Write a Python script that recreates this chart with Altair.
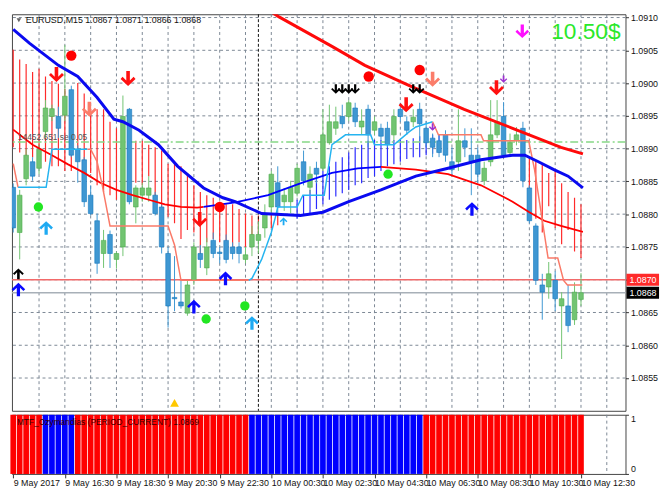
import altair as alt
import pandas as pd

# ---------------- candles (bar index 0 = 9 May 14:30, M15) ----------------
OPEN = [1.08841, 1.08772, 1.08854, 1.08880, 1.08870, 1.08926, 1.08949, 1.08949, 1.08951, 1.08990,
        1.08899, 1.08883, 1.08829, 1.08790, 1.08740, 1.08769, 1.08731, 1.08750, 1.08960, 1.08811,
        1.08829, 1.08829, 1.08829, 1.08811, 1.08740, 1.08673, 1.08666, 1.08649, 1.08699, 1.08740,
        1.08718, 1.08760, 1.08742, 1.08760, 1.08750, 1.08750, 1.08731, 1.08750, 1.08760, 1.08779,
        1.08811, 1.08848, 1.08819, 1.08819, 1.08832, 1.08880, 1.08841, 1.08870, 1.08870, 1.08909,
        1.08931, 1.08949, 1.08949, 1.08962, 1.08933, 1.08960, 1.08928, 1.08931, 1.08931, 1.08921,
        1.08960, 1.08941, 1.08941, 1.08960, 1.08931, 1.08916, 1.08912, 1.08921, 1.08880, 1.08880,
        1.08912, 1.08890, 1.08890, 1.08851, 1.08880, 1.08921, 1.08949, 1.08894, 1.08912, 1.08931,
        1.08840, 1.08782, 1.08692, 1.08689, 1.08699, 1.08660, 1.08660, 1.08639, 1.08670]
HIGH = [1.08847, 1.08837, 1.08899, 1.08887, 1.08906, 1.08974, 1.08967, 1.08964, 1.09058, 1.08996,
        1.08905, 1.08887, 1.08844, 1.08801, 1.08776, 1.08775, 1.08743, 1.08981, 1.08962, 1.08844,
        1.08848, 1.08858, 1.08834, 1.08815, 1.08750, 1.08736, 1.08699, 1.08699, 1.08757, 1.08753,
        1.08764, 1.08772, 1.08750, 1.08769, 1.08757, 1.08757, 1.08750, 1.08782, 1.08789, 1.08815,
        1.08866, 1.08873, 1.08840, 1.08851, 1.08877, 1.08897, 1.08873, 1.08880, 1.08960, 1.08967,
        1.08964, 1.08967, 1.08974, 1.08970, 1.08960, 1.08967, 1.08949, 1.08938, 1.08941, 1.08960,
        1.08970, 1.08949, 1.08960, 1.08970, 1.08942, 1.08923, 1.08921, 1.08928, 1.08902, 1.08960,
        1.08931, 1.08931, 1.08902, 1.08880, 1.08974, 1.08974, 1.08971, 1.08923, 1.08933, 1.08941,
        1.08844, 1.08786, 1.08709, 1.08727, 1.08713, 1.08681, 1.08692, 1.08696, 1.08710]
LOW = [1.08772, 1.08731, 1.08844, 1.08851, 1.08861, 1.08916, 1.08942, 1.08916, 1.08942, 1.08887,
       1.08848, 1.08811, 1.08798, 1.08709, 1.08718, 1.08718, 1.08717, 1.08736, 1.08815, 1.08786,
       1.08819, 1.08819, 1.08798, 1.08740, 1.08627, 1.08652, 1.08656, 1.08645, 1.08692, 1.08718,
       1.08707, 1.08733, 1.08725, 1.08725, 1.08731, 1.08725, 1.08725, 1.08736, 1.08740, 1.08764,
       1.08801, 1.08801, 1.08805, 1.08801, 1.08827, 1.08844, 1.08832, 1.08847, 1.08866, 1.08906,
       1.08921, 1.08931, 1.08942, 1.08933, 1.08921, 1.08902, 1.08921, 1.08912, 1.08902, 1.08912,
       1.08941, 1.08921, 1.08933, 1.08912, 1.08902, 1.08887, 1.08887, 1.08880, 1.08858, 1.08866,
       1.08887, 1.08829, 1.08848, 1.08844, 1.08873, 1.08916, 1.08887, 1.08887, 1.08905, 1.08841,
       1.08786, 1.08692, 1.08639, 1.08671, 1.08652, 1.08579, 1.08620, 1.08631, 1.08660]
CLOSE = [1.08779, 1.08829, 1.08890, 1.08858, 1.08899, 1.08962, 1.08961, 1.08931, 1.08980, 1.08890,
         1.08880, 1.08819, 1.08801, 1.08725, 1.08760, 1.08740, 1.08740, 1.08949, 1.08819, 1.08840,
         1.08840, 1.08840, 1.08801, 1.08750, 1.08660, 1.08671, 1.08660, 1.08692, 1.08750, 1.08731,
         1.08750, 1.08740, 1.08740, 1.08731, 1.08740, 1.08740, 1.08738, 1.08769, 1.08769, 1.08801,
         1.08861, 1.08811, 1.08829, 1.08841, 1.08870, 1.08851, 1.08861, 1.08861, 1.08921, 1.08941,
         1.08941, 1.08938, 1.08970, 1.08941, 1.08942, 1.08921, 1.08941, 1.08919, 1.08906, 1.08949,
         1.08949, 1.08928, 1.08948, 1.08938, 1.08909, 1.08902, 1.08894, 1.08890, 1.08868, 1.08912,
         1.08902, 1.08880, 1.08861, 1.08870, 1.08921, 1.08941, 1.08890, 1.08909, 1.08921, 1.08851,
         1.08790, 1.08699, 1.08681, 1.08709, 1.08671, 1.08671, 1.08630, 1.08681, 1.08680]

# ---------------- indicator lines (bar index, price) ----------------
BLUE_MA_I = [0, 2.5, 7, 10, 13, 15.6, 17, 19.5, 22.5, 25.5, 29.5, 32.5, 34.4, 38.5, 44.5, 48, 52, 57,
             62.4, 67.4, 72.5, 77.4, 79.3, 81.4, 83.8, 86, 88.3]
BLUE_MA_P = [1.09082, 1.09061, 1.09027, 1.09010, 1.08978, 1.08945, 1.08941, 1.08928, 1.08906, 1.08873,
             1.08840, 1.08825, 1.08819, 1.08801, 1.08798, 1.08803, 1.08819, 1.08837, 1.08858, 1.08870,
             1.08883, 1.08890, 1.08890, 1.08880, 1.08868, 1.08858, 1.08840]

RED_MA_I = [35, 41.2, 49.4, 54.5, 61.4, 69.9, 77.4, 84.9, 88.3]
RED_MA_P = [1.09140, 1.09101, 1.09056, 1.09027, 1.08996, 1.08960, 1.08931, 1.08902, 1.08892]

THIN_I = [0, 3, 6, 8.5, 11, 13.5, 16, 18.5, 21, 23.5, 26, 28.5, 29.5,
          29.5, 34.4, 39.5, 44.5, 49.4, 53.4, 57,
          57, 62.4, 67.4, 72.5, 77.4, 80, 82.3, 84.9, 88.3]
THIN_P = [1.08929, 1.08906, 1.08890, 1.08876, 1.08863, 1.08848, 1.08837, 1.08829, 1.08822, 1.08815,
          1.08811, 1.08810, 1.08811,
          1.08811, 1.08818, 1.08829, 1.08847, 1.08863, 1.08870, 1.08872,
          1.08872, 1.08868, 1.08861, 1.08844, 1.08819, 1.08803, 1.08790, 1.08782, 1.08773]
THIN_SEG = [0] * 13 + [1] * 7 + [2] * 9
THIN_COLOR = ["#ff0000", "#0000ff", "#ff0000"]

STEP_I = [0, 0.75,
          0.75, 5.1, 6.0, 11.5,
          11.5, 12, 13, 13.8, 15, 24, 25, 26, 36.5,
          36.5, 37, 38.5, 40, 40.7, 41, 44, 44.9, 48.2, 49.4, 51.5, 55.4, 56, 59, 61.4, 62.4, 65,
          65, 65.9, 67.4, 72.5, 72.9, 79.9, 80.8, 82.9, 84.4, 85.3, 85.9, 88.2]
STEP_P = [1.08877, 1.08841,
          1.08841, 1.08841, 1.08899, 1.08899,
          1.08899, 1.08899, 1.08880, 1.08844, 1.08782, 1.08782, 1.08753, 1.08699, 1.08699,
          1.08699, 1.08702, 1.08731, 1.08772, 1.08798, 1.08811, 1.08811, 1.08829, 1.08829, 1.08906,
          1.08921, 1.08921, 1.08906, 1.08906, 1.08926, 1.08933, 1.08941,
          1.08941, 1.08921, 1.08921, 1.08921, 1.08912, 1.08912, 1.08868, 1.08733, 1.08733, 1.08699,
          1.08692, 1.08692]
STEP_SEG = [0] * 2 + [1] * 4 + [2] * 9 + [3] * 17 + [4] * 12
STEP_COLOR = ["#fa7a68", "#25b4f0", "#fa7a68", "#25b4f0", "#fa7a68"]

# histogram-like vertical lines
RED_HIST_I = list(range(0, 42)) + list(range(80, 89))
RED_HIST_TOP = [1.09051, 1.09036, 1.09029, 1.09017, 1.09022, 1.09010, 1.09003, 1.08999, 1.08991, 1.08988,
                1.09000, 1.08984, 1.08960, 1.08960, 1.08960, 1.08941, 1.08931, 1.08923, 1.08919, 1.08912,
                1.08912, 1.08906, 1.08902, 1.08897, 1.08877, 1.08877, 1.08873, 1.08863, 1.08844, 1.08834,
                1.08829, 1.08825, 1.08819, 1.08815, 1.08815, 1.08808, 1.08801, 1.08798, 1.08798, 1.08801,
                1.08801, 1.08801,
                1.08887, 1.08880, 1.08876, 1.08863, 1.08868, 1.08847, 1.08834, 1.08825, 1.08815]
RED_HIST_BOT = [1.08902, 1.08894, 1.08887, 1.08887, 1.08880, 1.08880, 1.08873, 1.08873, 1.08866, 1.08866,
                1.08887, 1.08873, 1.08863, 1.08844, 1.08834, 1.08829, 1.08822, 1.08822, 1.08822, 1.08848,
                1.08844, 1.08858, 1.08815, 1.08811, 1.08796, 1.08786, 1.08762, 1.08776, 1.08772, 1.08733,
                1.08757, 1.08762, 1.08757, 1.08750, 1.08747, 1.08757, 1.08750, 1.08757, 1.08764, 1.08779,
                1.08779, 1.08783,
                1.08815, 1.08793, 1.08772, 1.08812, 1.08779, 1.08754, 1.08776, 1.08743, 1.08733]
BLUE_HIST_I = list(range(44, 68))
BLUE_HIST_TOP = [1.08822, 1.08829, 1.08837, 1.08854, 1.08866, 1.08873, 1.08880, 1.08887, 1.08894, 1.08902,
                 1.08906, 1.08912, 1.08913, 1.08913, 1.08913, 1.08913, 1.08913, 1.08913, 1.08916, 1.08919,
                 1.08919, 1.08921, 1.08921, 1.08921]
BLUE_HIST_BOT = [1.08793, 1.08798, 1.08801, 1.08808, 1.08815, 1.08822, 1.08827, 1.08832, 1.08837, 1.08844,
                 1.08847, 1.08855, 1.08858, 1.08866, 1.08873, 1.08876, 1.08880, 1.08884, 1.08887, 1.08887,
                 1.08890, 1.08892, 1.08894, 1.08894]

# horizontal levels
LEVEL_P = [1.08910, 1.08700, 1.08680]
LEVEL_NAME = ["target", "ask", "bid"]

# signals
SIG_KIND = ["red_dot", "red_dot", "red_dot", "red_dot",
            "green_dot", "green_dot", "green_dot", "green_dot",
            "red_down", "red_down", "red_down", "red_down", "red_down",
            "salmon_down", "salmon_down",
            "black_down", "black_down", "black_down", "black_down", "black_down", "black_down",
            "magenta_down", "purple_down", "purple_down",
            "blue_up", "blue_up", "blue_up", "blue_up",
            "cyan_up", "cyan_up", "cyan_small", "black_up", "yellow_tri"]
SIG_I = [9.0, 32.0, 55.1, 63.0,
         3.9, 29.9, 35.9, 58.1,
         6.7, 17.8, 28.9, 60.9, 74.9,
         11.8, 65.0,
         50, 51, 52, 53, 62, 63,
         78.9, 76.0, 65.0,
         0.8, 28.0, 32.9, 71.1,
         5.1, 37.0, 41.9, 0.8, 25.0]
SIG_P = [1.09042, 1.08811, 1.09010, 1.09020,
         1.08811, 1.08640, 1.08660, 1.08861,
         1.09013, 1.09007, 1.08792, 1.08967, 1.08993,
         1.08960, 1.09006,
         1.08991, 1.08991, 1.08991, 1.08991, 1.08991, 1.08991,
         1.09079, 1.09006, 1.08933,
         1.08685, 1.08659, 1.08702, 1.08808,
         1.08779, 1.08634, 1.08789, 1.08709, 1.08512]

# sub window: MTF_Ozymandias trend per bar (1 = red/down, 0 = blue/up)
OZY_DOWN = [1, 1, 1, 1, 1, 0, 0, 0, 0, 0,
            1, 1, 1, 1, 1, 1, 1, 1, 1, 1,
            1, 1, 1, 1, 1, 1, 1, 1, 1, 1,
            1, 1, 1, 1, 1, 1, 1, 0, 0, 0,
            0, 0, 0, 0, 0, 0, 0, 0, 0, 0,
            0, 0, 0, 0, 0, 0, 0, 0, 0, 0,
            0, 0, 0, 0, 1, 1, 1, 1, 1, 1,
            1, 1, 1, 1, 1, 1, 1, 1, 1, 1,
            1, 1, 1, 1, 1, 1, 1, 1, 1]

PRICE_TICKS = [1.0855, 1.0860, 1.0865, 1.0870, 1.0875, 1.0880, 1.0885, 1.0890, 1.0895, 1.0900, 1.0905, 1.0910]
HOUR_GRID = [4, 8, 12, 16, 20, 24, 28, 32, 36, 40, 44, 48, 52, 56, 60, 64, 68, 72, 76, 80, 84, 88, 92]
DAY_SEP = [38]
TIME_LABEL_BARS = [0, 8, 16, 24, 32, 40, 48, 56, 64, 72, 80, 88]
TIME_LABELS = ["9 May 2017", "9 May 16:30", "9 May 18:30", "9 May 20:30", "9 May 22:30", "10 May 00:30",
               "10 May 02:30", "10 May 04:30", "10 May 06:30", "10 May 08:30", "10 May 10:30", "10 May 12:30"]

TITLE = "EURUSD,M15  1.0867 1.0871 1.0866 1.0868"
PROFIT = "10.50$"
INFO = "14452.651 se 0.05"
SUB_TITLE = "MTF_Ozymandias (PERIOD_CURRENT) 1.0869"

# ---------------- layout ----------------
W, H1, H2 = 622, 402, 60
XDOM = [-0.2, 94.9]
YDOM = [1.0850, 1.09105]
FONT = "Liberation Sans"
GRIDC = "#7c8794"

xs = alt.Scale(domain=XDOM, nice=False, zero=False)
ys = alt.Scale(domain=YDOM, nice=False, zero=False)
x_axis_main = alt.Axis(values=HOUR_GRID, grid=False, labels=False, ticks=False, domain=False, title=None)
y_axis_main = alt.Axis(orient="right", values=PRICE_TICKS, format=".4f", grid=False,
                       tickSize=3, tickColor="#333", labelFontSize=9, labelPadding=2,
                       domain=False, title=None, labelColor="#111")


def X(f):
    return alt.X(f"{f}:Q", scale=xs, axis=x_axis_main)


def Y(f):
    return alt.Y(f"{f}:Q", scale=ys, axis=y_axis_main)


n = len(OPEN)
cdf = pd.DataFrame({"i": list(range(n)), "o": OPEN, "h": HIGH, "l": LOW, "c": CLOSE})
cdf["dir"] = ["up" if c >= o else "down" for o, c in zip(OPEN, CLOSE)]
cdf["lo"] = cdf[["o", "c"]].min(axis=1)
cdf["hi"] = cdf[["o", "c"]].max(axis=1)
cdf["xl"] = cdf["i"] - 0.36
cdf["xr"] = cdf["i"] + 0.36

vgrid = alt.Chart(pd.DataFrame({"i": HOUR_GRID})).mark_rule(color=GRIDC, strokeDash=[3, 3], strokeWidth=1).encode(x=X("i"))
hgrid = alt.Chart(pd.DataFrame({"p": PRICE_TICKS})).mark_rule(color=GRIDC, strokeDash=[3, 3], strokeWidth=1).encode(y=Y("p"))
day = alt.Chart(pd.DataFrame({"i": DAY_SEP})).mark_rule(color="#111", strokeDash=[3, 2], strokeWidth=1).encode(x=X("i"))

rh = pd.DataFrame({"i": RED_HIST_I, "t": RED_HIST_TOP, "b": RED_HIST_BOT})
red_hist = alt.Chart(rh).mark_rule(color="#ff2a2a", strokeWidth=1.2, clip=True).encode(
    x=X("i"), y=Y("t"), y2="b:Q")
bh = pd.DataFrame({"i": BLUE_HIST_I, "t": BLUE_HIST_TOP, "b": BLUE_HIST_BOT})
blue_hist = alt.Chart(bh).mark_rule(color="#2b2bff", strokeWidth=1.2, clip=True).encode(
    x=X("i"), y=Y("t"), y2="b:Q")

lv = pd.DataFrame({"p": LEVEL_P, "name": LEVEL_NAME})
lvl_target = alt.Chart(lv[lv.name == "target"]).mark_rule(color="#86d886", strokeWidth=1.5, strokeDash=[8, 3, 2, 3]).encode(y=Y("p"))
lvl_ask = alt.Chart(lv[lv.name == "ask"]).mark_rule(color="#f26a6a", strokeWidth=1.5).encode(y=Y("p"))
lvl_bid = alt.Chart(lv[lv.name == "bid"]).mark_rule(color="#a8b0b8", strokeWidth=1.5).encode(y=Y("p"))

cscale = alt.Scale(domain=["up", "down"], range=["#4cae4c", "#1479bf"])
wscale = alt.Scale(domain=["up", "down"], range=["#72c472", "#3f97d2"])
wicks = alt.Chart(cdf).mark_rule(strokeWidth=1, clip=True).encode(
    x=X("i"), y=Y("l"), y2="h:Q", color=alt.Color("dir:N", scale=wscale, legend=None))
bodies = alt.Chart(cdf).mark_bar(strokeWidth=0.6, clip=True).encode(
    x=X("xl"), x2="xr:Q", y=Y("lo"), y2="hi:Q",
    color=alt.Color("dir:N", scale=cscale, legend=None),
    stroke=alt.Stroke("dir:N", scale=cscale, legend=None))

thin = pd.DataFrame({"i": THIN_I, "p": THIN_P, "seg": THIN_SEG})
thin["col"] = [THIN_COLOR[s] for s in THIN_SEG]
thin_line = alt.Chart(thin).mark_line(strokeWidth=1.8, clip=True).encode(
    x=X("i"), y=Y("p"), detail="seg:N", color=alt.Color("col:N", scale=None))

step = pd.DataFrame({"i": STEP_I, "p": STEP_P, "seg": STEP_SEG})
step["col"] = [STEP_COLOR[s] for s in STEP_SEG]
step_line = alt.Chart(step).mark_line(strokeWidth=1.5, clip=True).encode(
    x=X("i"), y=Y("p"), detail="seg:N", color=alt.Color("col:N", scale=None))

blue_ma = alt.Chart(pd.DataFrame({"i": BLUE_MA_I, "p": BLUE_MA_P})).mark_line(
    color="#0a0af0", strokeWidth=3, clip=True).encode(x=X("i"), y=Y("p"))
red_ma = alt.Chart(pd.DataFrame({"i": RED_MA_I, "p": RED_MA_P})).mark_line(
    color="#ff0a0a", strokeWidth=3, clip=True).encode(x=X("i"), y=Y("p"))

DOWN = "M-0.24,-1L0.24,-1L0.24,0.28L0.74,-0.22L1,0.06L0,1L-1,0.06L-0.74,-0.22L-0.24,0.28Z"
UP = "M-0.24,1L0.24,1L0.24,-0.28L0.74,0.22L1,-0.06L0,-1L-1,-0.06L-0.74,0.22L-0.24,-0.28Z"
STYLES = {
    "red_dot": ("circle", 110, "#ff0000"),
    "green_dot": ("circle", 90, "#22e622"),
    "red_down": (DOWN, 230, "#ff1010"),
    "salmon_down": (DOWN, 230, "#fb7d6a"),
    "black_down": (DOWN, 90, "#000000"),
    "magenta_down": (DOWN, 190, "#ff10ff"),
    "purple_down": (DOWN, 55, "#9b30d0"),
    "blue_up": (UP, 190, "#0a0aff"),
    "cyan_up": (UP, 190, "#1eaaf2"),
    "cyan_small": (UP, 60, "#1eaaf2"),
    "black_up": (UP, 120, "#000000"),
    "yellow_tri": ("triangle-up", 80, "#ffc800"),
}
sig = pd.DataFrame({"kind": SIG_KIND, "i": SIG_I, "p": SIG_P})
sig_layers = []
for k, (shape, size, colr) in STYLES.items():
    sub = sig[sig.kind == k]
    sig_layers.append(alt.Chart(sub).mark_point(shape=shape, size=size, filled=True, opacity=1,
                                                 color=colr, strokeWidth=0).encode(x=X("i"), y=Y("p")))

title_tri = alt.Chart(pd.DataFrame({"k": [0]})).mark_point(shape="triangle-down", size=22, filled=True,
                                                            color="#222").encode(x=alt.value(7), y=alt.value(6))
title_txt = alt.Chart(pd.DataFrame({"t": [TITLE]})).mark_text(align="left", baseline="middle", fontSize=9,
                                                                color="#111", font=FONT).encode(
    text="t:N", x=alt.value(14), y=alt.value(6))
profit_txt = alt.Chart(pd.DataFrame({"t": [PROFIT]})).mark_text(align="right", baseline="middle", fontSize=23,
                                                                  color="#2ae82a", font=FONT).encode(
    text="t:N", x=alt.value(W - 5), y=alt.value(18))
info_txt = alt.Chart(pd.DataFrame({"t": [INFO]})).mark_text(align="left", baseline="middle", fontSize=8.5,
                                                              color="#555", font=FONT).encode(
    text="t:N", x=alt.value(6), y=alt.value(124))

box = pd.DataFrame({"p": [1.0870, 1.0868], "t": ["1.0870", "1.0868"], "col": ["#ff2a2a", "#000000"]})
box["hi"] = box["p"] + 0.000092
box["lo"] = box["p"] - 0.000092
box_rect = alt.Chart(box).mark_rect().encode(
    x=alt.value(W + 1), x2=alt.value(W + 34), y=Y("hi"), y2="lo:Q", color=alt.Color("col:N", scale=None))
box_txt = alt.Chart(box).mark_text(align="left", baseline="middle", fontSize=9, color="white", font=FONT).encode(
    x=alt.value(W + 4), y=Y("p"), text="t:N")

main = alt.layer(vgrid, hgrid, red_hist, blue_hist, day, lvl_target, lvl_bid, lvl_ask, wicks, bodies,
                 thin_line, step_line, red_ma, blue_ma, *sig_layers,
                 title_tri, title_txt, profit_txt, info_txt, box_rect, box_txt).properties(width=W, height=H1)

# ---------------- sub window ----------------
expr = "''"
for b, lab in reversed(list(zip(TIME_LABEL_BARS, TIME_LABELS))):
    expr = f"datum.value == {b} ? '{lab}' : ({expr})"

x_axis_sub = alt.Axis(values=TIME_LABEL_BARS, labelExpr=expr, grid=False, labelAlign="left", labelFlush=False,
                      labelOverlap=False, tickSize=4, tickColor="#333", labelFontSize=9, labelPadding=1,
                      domain=False, title=None, labelColor="#111")
ysub = alt.Scale(domain=[0, 1], nice=False, zero=False)
y_axis_sub = alt.Axis(orient="right", values=[0, 1], format="d", labelFlush=True, grid=False, tickSize=3,
                      tickColor="#333", labelFontSize=9, labelPadding=2, domain=False, title=None, labelColor="#111")

ozy = pd.DataFrame({"i": list(range(len(OZY_DOWN))), "d": OZY_DOWN})
ozy["xl"] = ozy["i"] - 0.44
ozy["xr"] = ozy["i"] + 0.44
ozy["v0"] = 0
ozy["v1"] = 1
ozy["col"] = ["#ff0000" if d == 1 else "#0000ff" for d in OZY_DOWN]

sub_grid = alt.Chart(pd.DataFrame({"i": HOUR_GRID})).mark_rule(color=GRIDC, strokeDash=[3, 3]).encode(
    x=alt.X("i:Q", scale=xs, axis=x_axis_sub))
sub_bars = alt.Chart(ozy).mark_rect().encode(
    x=alt.X("xl:Q", scale=xs, axis=x_axis_sub), x2="xr:Q",
    y=alt.Y("v0:Q", scale=ysub, axis=y_axis_sub), y2="v1:Q", color=alt.Color("col:N", scale=None))
sub_txt = alt.Chart(pd.DataFrame({"t": [SUB_TITLE]})).mark_text(align="left", baseline="middle", fontSize=8.5,
                                                                  color="#3a0000", font=FONT).encode(
    text="t:N", x=alt.value(5), y=alt.value(7))
sub = alt.layer(sub_grid, sub_bars, sub_txt).properties(width=W, height=H2)

chart = alt.vconcat(main, sub, spacing=2).properties(
    padding={"left": 1, "top": 1, "right": 2, "bottom": 2}, background="white"
).configure_view(stroke="#444", strokeWidth=1).configure_axis(labelFont=FONT)

chart.save("out.html", embed_options={"renderer": "svg", "actions": False})
